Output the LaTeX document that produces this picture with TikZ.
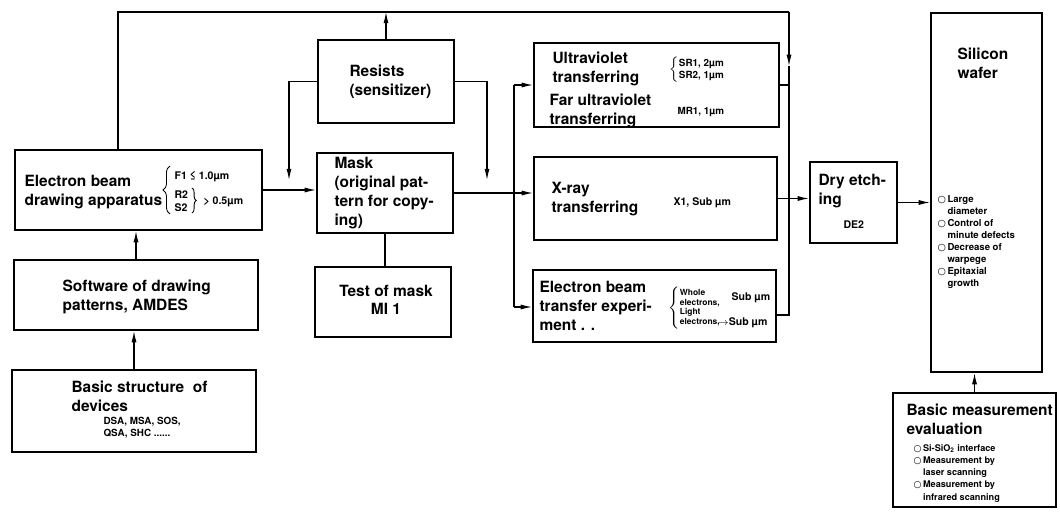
\documentclass[tikz,border=0pt]{standalone}
\usepackage{fontspec}
\setmainfont{TeX Gyre Heros}
\newfontfamily\symfnt{DejaVu Sans}
\usepackage{tikz}
\usetikzlibrary{arrows,arrows.meta,fit,positioning,decorations.pathreplacing}
\newcommand{\wbul}{{\symfnt ○}}

\begin{document}
\begin{tikzpicture}[x=0.025cm, y=-0.025cm, line width=0.8pt,
	>={Latex[length=8pt,width=3.6pt]},
	blk/.style={draw, line width=1.5pt, inner sep=0pt},
	brc/.style={decorate, decoration={brace, amplitude=#1}, line width=0.6pt},
	lbl/.style={anchor=west, align=left, inner sep=0pt, font=\fontsize{11}{13.3}\selectfont\bfseries},
	note/.style={anchor=west, align=left, inner sep=0pt, font=\fontsize{6.5}{8.3}\selectfont\bfseries}]
	\useasboundingbox (0,0) rectangle (1060,512);

	% boxes
	\node[blk, fit={(15,150) (262,230)}] (eb) {};
	\node[blk, fit={(14,260) (258,330)}] (sw) {};
	\node[blk, fit={(12,370) (256,452)}] (bs) {};
	\node[blk, fit={(318,40) (454,123)}] (res) {};
	\node[blk, fit={(317,153) (453,233)}] (mask) {};
	\node[blk, fit={(315,267) (451,337)}] (test) {};
	\node[blk, fit={(534,43) (779,127)}] (uv) {};
	\node[blk, fit={(534,157) (777,240)}] (xr) {};
	\node[blk, fit={(533,270) (776,342)}] (ebt) {};
	\node[blk, fit={(810,162) (897,243)}] (dry) {};
	\node[blk, fit={(931,13) (1042,372)}] (waf) {};
	\node[blk, fit={(893,393) (1056,507)}] (meas) {};

	% texts
	\node[lbl] (ebtxt) at (24,192) {Electron beam\\drawing apparatus};
	\node[note, font=\fontsize{7.5}{9}\selectfont\bfseries] (ebf1) at (174,176) {F1 ≤ 1.0µm};
	\node[note, font=\fontsize{7.5}{9.5}\selectfont\bfseries] (ebrs) at (174,201) {R2\\S2};
	\node[note, font=\fontsize{7.5}{9}\selectfont\bfseries] (ebgt) at (203,202) {> 0.5µm};
	\coordinate (ebb1) at (170,214);
	\coordinate (ebb2) at (170,166);
	\coordinate (ebb3) at (192,188);
	\coordinate (ebb4) at (192,213);
	\draw [brc=5pt] (ebb1) to (ebb2);
	\draw [brc=3pt] (ebb3) to (ebb4);
	\node[lbl] (swtxt) at (62,297) {Software of drawing\\patterns, AMDES};
	\node[lbl] (bstxt) at (71,396) {Basic structure~ of\\devices};
	\node[note, font=\fontsize{7}{8.5}\selectfont\bfseries] (bsval) at (103,428) {DSA, MSA, SOS,\\QSA, SHC ......};
	\node[lbl] (restxt) at (349,82) {Resists\\(sensitizer)};
	\node[lbl] (masktxt) at (334,193) {Mask\\(original pat-\\tern for copy-\\ing)};
	\node[lbl, align=center, anchor=center] (testtxt) at (386,300) {Test of mask\\MI 1};
	\node[lbl] (uvtxt) at (552,69) {Ultraviolet\\transferring};
	\node[lbl] (futxt) at (549,111) {Far ultraviolet\\transferring};
	\node[note, font=\fontsize{7}{8.5}\selectfont\bfseries] (uvval) at (669,70) {$\left\{\begin{tabular}{@{}l@{}}SR1, 2µm\\SR2, 1µm\end{tabular}\right.$};
	\node[note, font=\fontsize{7}{8.5}\selectfont\bfseries] (fuval) at (677,112) {MR1, 1µm};
	\node[lbl] (xrtxt) at (551,199) {X-ray\\transferring};
	\node[note, font=\fontsize{7.5}{9}\selectfont\bfseries] (xrval) at (673,203) {X1, Sub µm};
	\node[lbl] (ebttxt) at (539,306) {Electron beam\\transfer experi-\\ment . .};
	\node[note, font=\fontsize{6}{6.8}\selectfont\bfseries] (ebtval) at (668,308)
		{$\left\{\begin{tabular}{@{}l@{}}Whole\\electrons,\\Light\\electrons,\end{tabular}\right.$};
	\node[note, font=\fontsize{7.5}{9}\selectfont\bfseries] (sub1) at (731,298) {Sub µm};
	\node[note, font=\fontsize{7.5}{9}\selectfont\bfseries] (sub2) at (717,323) {$\rightarrow$Sub µm};
	\node[lbl] (drytxt) at (818,191) {Dry etch-\\ing};
	\node[note, font=\fontsize{7.5}{9}\selectfont\bfseries] (drydx) at (843,225) {DE2};
	\node[lbl] (waftxt) at (957,63) {Silicon\\wafer};
	\node[note, anchor=north west, font=\fontsize{6.8}{8.6}\selectfont\bfseries] (waflist) at (937,193)
		{\begin{tabular}{@{}l@{\,}l@{}}\wbul&Large\\&diameter\\\wbul&Control of\\&minute defects\\\wbul&Decrease of\\&warpege\\\wbul&Epitaxial\\&growth\end{tabular}};
	\node[lbl] (meastxt) at (906,419) {Basic measurement\\evaluation};
	\node[note, anchor=north west, font=\fontsize{6.5}{8.7}\selectfont\bfseries] (measlist) at (913,442)
		{\begin{tabular}{@{}l@{\,}l@{}}\wbul&Si-SiO\textsubscript{2} interface\\\wbul&Measurement by\\&laser scanning\\\wbul&Measurement by\\&infrared scanning\end{tabular}};

	% connectors
	\coordinate (tl) at (118,12);
	\coordinate (tr) at (789,12);
	\coordinate (dn) at (789,66);
	\coordinate (rb) at (789,315);
	\coordinate (lt) at (514,85);
	\coordinate (lb) at (514,307);
	\coordinate (rl) at (289,180);
	\coordinate (rr) at (487,180);

	\draw [-] (tl |- eb.north) to (tl) to (tr);
	\draw [->] (tr) to (dn);
	\draw [-] (dn) to (rb) to (rb -| ebt.east);
	\draw [-] (uv.east) to (uv.east -| tr);
	\draw [->] (res.north) to (res.north |- tl);
	\draw [->] (res.west) -| (rl);
	\draw [->] (res.east) -| (rr);
	\draw [->] (sw.north) to (sw.north |- eb.south);
	\draw [->] (bs.north) to (bs.north |- sw.south);
	\draw [->] (eb.east) to (eb.east -| mask.west);
	\draw [-] (mask.south) to (mask.south |- test.north);
	\draw [->] (mask.east) to (mask.east -| xr.west);
	\draw [-] (lt) to (lb);
	\draw [->] (lt) to (lt -| uv.west);
	\draw [->] (lb) to (lb -| ebt.west);
	\draw [->] (xr.east) to (xr.east -| dry.west);
	\draw [->] (dry.east) to (dry.east -| waf.west);
	\draw [->] (meas.north) to (meas.north |- waf.south);
\end{tikzpicture}
\end{document}
